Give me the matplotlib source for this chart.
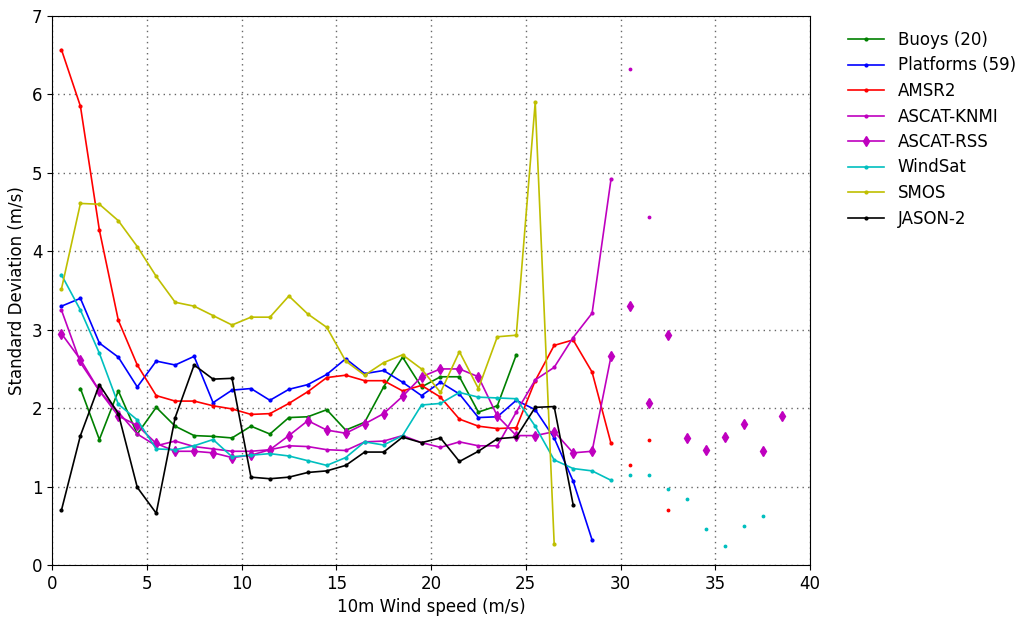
import numpy as np
import matplotlib.pyplot as plt

NAN = np.nan
x = np.arange(0.5, 30, 1.0)

buoys = [NAN, 2.25, 1.6, 2.22, 1.67, 2.01, 1.77, 1.65, 1.64, 1.62, 1.77, 1.67, 1.88, 1.89, 1.98,
         1.72, 1.82, 2.27, 2.65, 2.27, 2.4, 2.4, 1.95, 2.03, 2.68]
platforms = [3.3, 3.4, 2.83, 2.65, 2.27, 2.6, 2.55, 2.66, 2.07, 2.23, 2.25, 2.1, 2.24, 2.3, 2.43,
             2.63, 2.44, 2.48, 2.33, 2.16, 2.33, 2.18, 1.88, 1.89, 2.1, 1.98, 1.62, 1.07, 0.32]
amsr2 = [6.57, 5.85, 4.27, 3.12, 2.55, 2.16, 2.09, 2.09, 2.03, 1.99, 1.92, 1.93, 2.06, 2.21, 2.39,
         2.42, 2.35, 2.35, 2.22, 2.29, 2.14, 1.86, 1.77, 1.74, 1.75, 2.35, 2.8, 2.87, 2.46, 1.55]
knmi = [3.25, 2.58, 2.22, 1.95, 1.67, 1.52, 1.58, 1.51, 1.48, 1.45, 1.45, 1.47, 1.52, 1.51, 1.47,
        1.46, 1.57, 1.58, 1.65, 1.56, 1.5, 1.57, 1.52, 1.52, 1.95, 2.36, 2.52, 2.9, 3.21, 4.92]
rss = [2.95, 2.62, 2.22, 1.9, 1.78, 1.55, 1.45, 1.45, 1.43, 1.37, 1.4, 1.47, 1.65, 1.84, 1.72,
       1.68, 1.8, 1.93, 2.15, 2.4, 2.5, 2.5, 2.4, 1.9, 1.65, 1.65, 1.7, 1.43, 1.45, 2.66]
windsat = [3.7, 3.25, 2.7, 2.05, 1.85, 1.48, 1.47, 1.52, 1.6, 1.38, 1.4, 1.42, 1.39, 1.33, 1.27,
           1.37, 1.57, 1.53, 1.65, 2.04, 2.06, 2.2, 2.14, 2.13, 2.12, 1.77, 1.34, 1.23, 1.2, 1.08]
smos = [3.52, 4.61, 4.6, 4.39, 4.06, 3.68, 3.35, 3.3, 3.18, 3.06, 3.16, 3.16, 3.43, 3.2, 3.03,
        2.6, 2.42, 2.58, 2.68, 2.5, 2.2, 2.72, 2.25, 2.91, 2.93, 5.9, 0.27]
jason = [0.7, 1.65, 2.3, 1.93, 0.99, 0.66, 1.88, 2.55, 2.37, 2.38, 1.12, 1.1, 1.12, 1.18, 1.2,
         1.27, 1.44, 1.44, 1.63, 1.56, 1.62, 1.32, 1.45, 1.61, 1.63, 2.01, 2.02, 0.77]

# isolated high-wind bins (not joined by lines)
amsr2_x, amsr2_pts = [30.5, 31.5, 32.5], [1.27, 1.6, 0.7]
knmi_x, knmi_pts = [30.5, 31.5], [6.33, 4.44]
rss_x = [30.5, 31.5, 32.5, 33.5, 34.5, 35.5, 36.5, 37.5, 38.5]
rss_pts = [3.3, 2.07, 2.93, 1.62, 1.47, 1.63, 1.8, 1.45, 1.9]
windsat_x = [30.5, 31.5, 32.5, 33.5, 34.5, 35.5, 36.5, 37.5]
windsat_pts = [1.15, 1.15, 0.97, 0.84, 0.46, 0.24, 0.5, 0.62]

series = [
    ("Buoys (20)", buoys, "g", "."),
    ("Platforms (59)", platforms, "b", "."),
    ("AMSR2", amsr2, "r", "."),
    ("ASCAT-KNMI", knmi, "m", "."),
    ("ASCAT-RSS", rss, "m", "d"),
    ("WindSat", windsat, "c", "."),
    ("SMOS", smos, "y", "."),
    ("JASON-2", jason, "k", "."),
]

fig = plt.figure(figsize=(10.21, 6.19), dpi=100)
ax = fig.add_axes([52 / 1021, 1 - 565 / 619, 758 / 1021, 549 / 619])
colors = {"g": "#008000", "b": "#0000ff", "r": "#ff0000", "m": "#bf00bf",
          "c": "#00bfbf", "y": "#bfbf00", "k": "#000000"}
for label, vals, c, m in series:
    ms = 5 if m == "d" else 4
    ax.plot(x[:len(vals)], vals, color=colors[c], marker=m, markersize=ms, lw=1.2, label=label)

ax.plot(amsr2_x, amsr2_pts, ls="none", marker=".", ms=3.5, color=colors["r"])
ax.plot(knmi_x, knmi_pts, ls="none", marker=".", ms=3.5, color=colors["m"])
ax.plot(rss_x, rss_pts, ls="none", marker="d", ms=5, color=colors["m"])
ax.plot(windsat_x, windsat_pts, ls="none", marker=".", ms=3.5, color=colors["c"])

ax.set_xlim(0, 40)
ax.set_ylim(0, 7)
ax.grid(True, linestyle=(0, (1, 3)), color="#666666", linewidth=1)
ax.set_xlabel("10m Wind speed (m/s)", fontsize=12)
ax.set_ylabel("Standard Deviation (m/s)", fontsize=12)
ax.tick_params(labelsize=12)
ax.legend(loc="upper left", bbox_to_anchor=(1.03, 1.0), frameon=False, fontsize=12,
          numpoints=1, handlelength=2.2, labelspacing=0.45)
fig.savefig("out.png", dpi=100)
